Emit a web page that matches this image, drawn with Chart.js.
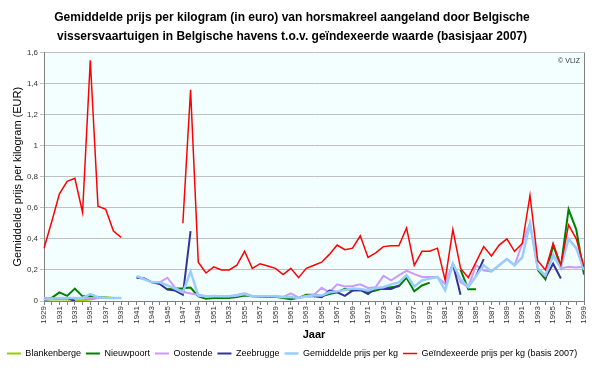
<!DOCTYPE html>
<html>
<head>
<meta charset="utf-8">
<script src="https://cdn.jsdelivr.net/npm/chart.js@4"></script>
<style>
  html, body { margin: 0; padding: 0; background: #fff; }
  #wrap { width: 600px; height: 368px; }
</style>
</head>
<body>
<div id="wrap"><canvas id="c"></canvas></div>
<script>
// categories: every year 1929..1999, labels shown every 2 years
const years = [];
for (let y = 1929; y <= 1999; y++) years.push(String(y));

// values (EUR/kg), one per year, null = no data
const blankenberge = [
  0.005,0.01,0.01,0.01,0.005,0.005,0.01,0.02,0.025,0.02,   // 1929-1938
  0.02,null,null,null,null,null,0.08,0.07,0.075,null,      // 1939-1948
  null,null,null,null,null,null,null,null,null,null,       // 1949-1958
  null,null,null,null,null,null,null,null,null,null,       // 1959-1968
  null,null,null,null,null,null,null,null,null,null,       // 1969-1978
  null,null,null,null,null,null,null,null,null,null,       // 1979-1988
  null,null,null,null,null,null,null,null,null,null,       // 1989-1998
  null                                                     // 1999
];
const nieuwpoort = [
  0.005,0.02,0.055,0.033,0.08,0.03,0.033,0.025,0.02,0.02,
  null,null,null,null,null,null,0.075,0.08,0.082,0.087,
  0.03,0.015,0.02,0.02,0.02,0.025,0.035,0.03,0.028,0.025,
  0.028,0.02,0.012,0.02,0.04,0.04,0.03,0.045,0.056,0.078,
  0.07,0.07,0.056,0.067,0.084,0.089,0.095,0.15,0.062,0.10,
  0.118,null,null,null,0.20,0.076,0.076,null,null,null,
  null,null,null,null,0.20,0.14,0.36,0.22,0.59,0.46,
  0.17
];
const oostende = [
  0.02,0.02,0.02,0.02,0.02,0.02,0.02,0.02,0.02,0.02,
  0.02,null,0.155,0.145,0.12,0.12,0.15,0.085,0.06,0.048,
  0.04,0.03,0.033,0.03,0.03,0.038,0.049,0.033,0.033,0.033,
  0.03,0.027,0.049,0.022,0.033,0.04,0.085,0.056,0.107,0.093,
  0.096,0.107,0.084,0.089,0.162,0.133,0.165,0.196,0.173,0.155,
  0.155,0.155,0.11,0.24,0.12,0.09,0.23,0.196,0.19,0.23,
  0.27,0.23,0.37,0.50,0.21,0.16,0.30,0.21,0.22,0.215,
  0.22
];
const zeebrugge = [
  0.01,0.015,0.02,0.02,0.0,null,null,null,null,null,
  null,null,0.15,0.145,0.12,0.11,0.073,0.067,0.04,0.45,
  null,null,null,null,null,null,null,null,null,null,
  null,null,null,null,0.03,0.03,0.025,0.067,0.056,0.033,
  0.067,0.071,0.044,0.084,0.078,0.078,0.10,null,null,null,
  null,null,null,0.24,0.04,null,0.16,0.27,null,null,
  null,null,null,null,null,0.15,0.24,0.145,null,null,
  null
];
const gemiddelde = [
  0.01,0.015,0.02,0.02,0.02,0.02,0.045,0.025,0.02,0.02,
  0.02,null,0.16,0.14,0.12,0.12,0.10,0.08,0.055,0.19,
  0.035,0.03,0.03,0.03,0.03,0.035,0.045,0.03,0.03,0.03,
  0.03,0.025,0.025,0.02,0.03,0.035,0.035,0.056,0.062,0.071,
  0.08,0.078,0.067,0.084,0.089,0.107,0.12,0.167,0.093,0.133,
  0.144,0.155,0.07,0.24,0.14,0.09,0.16,0.23,0.19,0.23,
  0.27,0.23,0.28,0.50,0.21,0.165,0.29,0.215,0.40,0.34,
  0.20
];
const geindexeerd = [
  0.34,0.51,0.69,0.77,0.79,0.57,1.55,0.61,0.59,0.45,
  0.41,null,null,null,null,null,null,null,0.50,1.36,
  0.25,0.18,0.22,0.20,0.20,0.23,0.32,0.21,0.24,0.225,
  0.21,0.17,0.21,0.15,0.21,0.23,0.25,0.30,0.36,0.33,
  0.34,0.42,0.28,0.31,0.35,0.355,0.355,0.47,0.23,0.32,
  0.32,0.34,0.135,0.46,0.21,0.15,0.25,0.35,0.29,0.36,
  0.40,0.32,0.37,0.68,0.26,0.20,0.37,0.23,0.49,0.40,
  0.22
];

const FONT = '"Liberation Sans", Arial, sans-serif';
Chart.defaults.font.family = FONT;
Chart.defaults.color = '#000';

// plot background, right border and the © VLIZ note
const plotDeco = {
  id: 'plotDeco',
  beforeDraw(chart) {
    const a = chart.chartArea, ctx = chart.ctx;
    ctx.save();
    ctx.fillStyle = '#F3FFFF';
    ctx.fillRect(a.left, a.top, a.right - a.left, a.bottom - a.top);
    ctx.restore();
  },
  afterDraw(chart) {
    const a = chart.chartArea, ctx = chart.ctx;
    ctx.save();
    ctx.strokeStyle = '#808080';
    ctx.lineWidth = 1;
    ctx.beginPath();
    ctx.moveTo(Math.round(a.right) + 0.5, a.top);
    ctx.lineTo(Math.round(a.right) + 0.5, a.bottom);
    ctx.stroke();
    ctx.fillStyle = '#333';
    ctx.font = '7px ' + FONT;
    ctx.textAlign = 'right';
    ctx.fillText('© VLIZ', a.right - 4, a.top + 9);
    ctx.restore();
  }
};

const mk = (label, data, color, width, order) => ({
  label, data, borderColor: color, backgroundColor: color,
  borderWidth: width, pointRadius: 0, spanGaps: false, tension: 0, order
});

new Chart(document.getElementById('c'), {
  type: 'line',
  data: {
    labels: years,
    datasets: [
      mk('Blankenberge', blankenberge, '#99CC00', 2, 5),
      mk('Nieuwpoort', nieuwpoort, '#008000', 2, 4),
      mk('Oostende', oostende, '#CC99FF', 2, 3),
      mk('Zeebrugge', zeebrugge, '#333399', 2, 2),
      mk('Gemiddelde prijs per kg', gemiddelde, '#99CCFF', 2.5, 1),
      mk('Geïndexeerde prijs per kg (basis 2007)', geindexeerd, '#FF0000', 1.5, 0)
    ]
  },
  options: {
    responsive: true, maintainAspectRatio: false, animation: false,
    layout: { padding: { left: 0, right: 16, top: 0, bottom: 0 } },
    plugins: {
      tooltip: { enabled: false },
      title: {
        display: true,
        text: ['Gemiddelde prijs per kilogram (in euro) van horsmakreel aangeland door Belgische',
               'vissersvaartuigen in Belgische havens t.o.v. geïndexeerde waarde (basisjaar 2007)'],
        font: { size: 12, weight: 'bold', lineHeight: 1.6 }, color: '#000',
        padding: { top: 8, bottom: 6 }
      },
      legend: {
        position: 'bottom',
        labels: {
          usePointStyle: true, pointStyle: 'line', pointStyleWidth: 14,
          boxHeight: 9, padding: 5, font: { size: 9 }, color: '#000',
          sort: (a, b) => a.datasetIndex - b.datasetIndex
        }
      }
    },
    scales: {
      x: {
        offset: false,
        grid: { drawOnChartArea: false, drawTicks: true, tickLength: 4, color: '#808080' },
        border: { color: '#808080' },
        ticks: {
          autoSkip: false, maxRotation: 90, minRotation: 90, padding: 1,
          font: { size: 8 }, color: '#333',
          callback: (v, i) => (i % 2 === 0 ? years[i] : '')
        },
        title: { display: true, text: 'Jaar', font: { size: 11, weight: 'bold' }, padding: { top: 4, bottom: 2 } }
      },
      y: {
        min: 0, max: 1.6,
        grid: { color: '#C0C0C0', tickLength: 4 },
        border: { color: '#808080' },
        ticks: {
          stepSize: 0.2, font: { size: 8 }, color: '#333', padding: 2,
          callback: v => String(Math.round(v * 10) / 10).replace('.', ',')
        },
        title: { display: true, text: 'Gemiddelde prijs per kilogram (EUR)', font: { size: 11 }, padding: { top: 11, bottom: 0 } },
        afterFit: s => { s.width = 44; }
      }
    }
  },
  plugins: [plotDeco]
});
</script>
</body>
</html>
